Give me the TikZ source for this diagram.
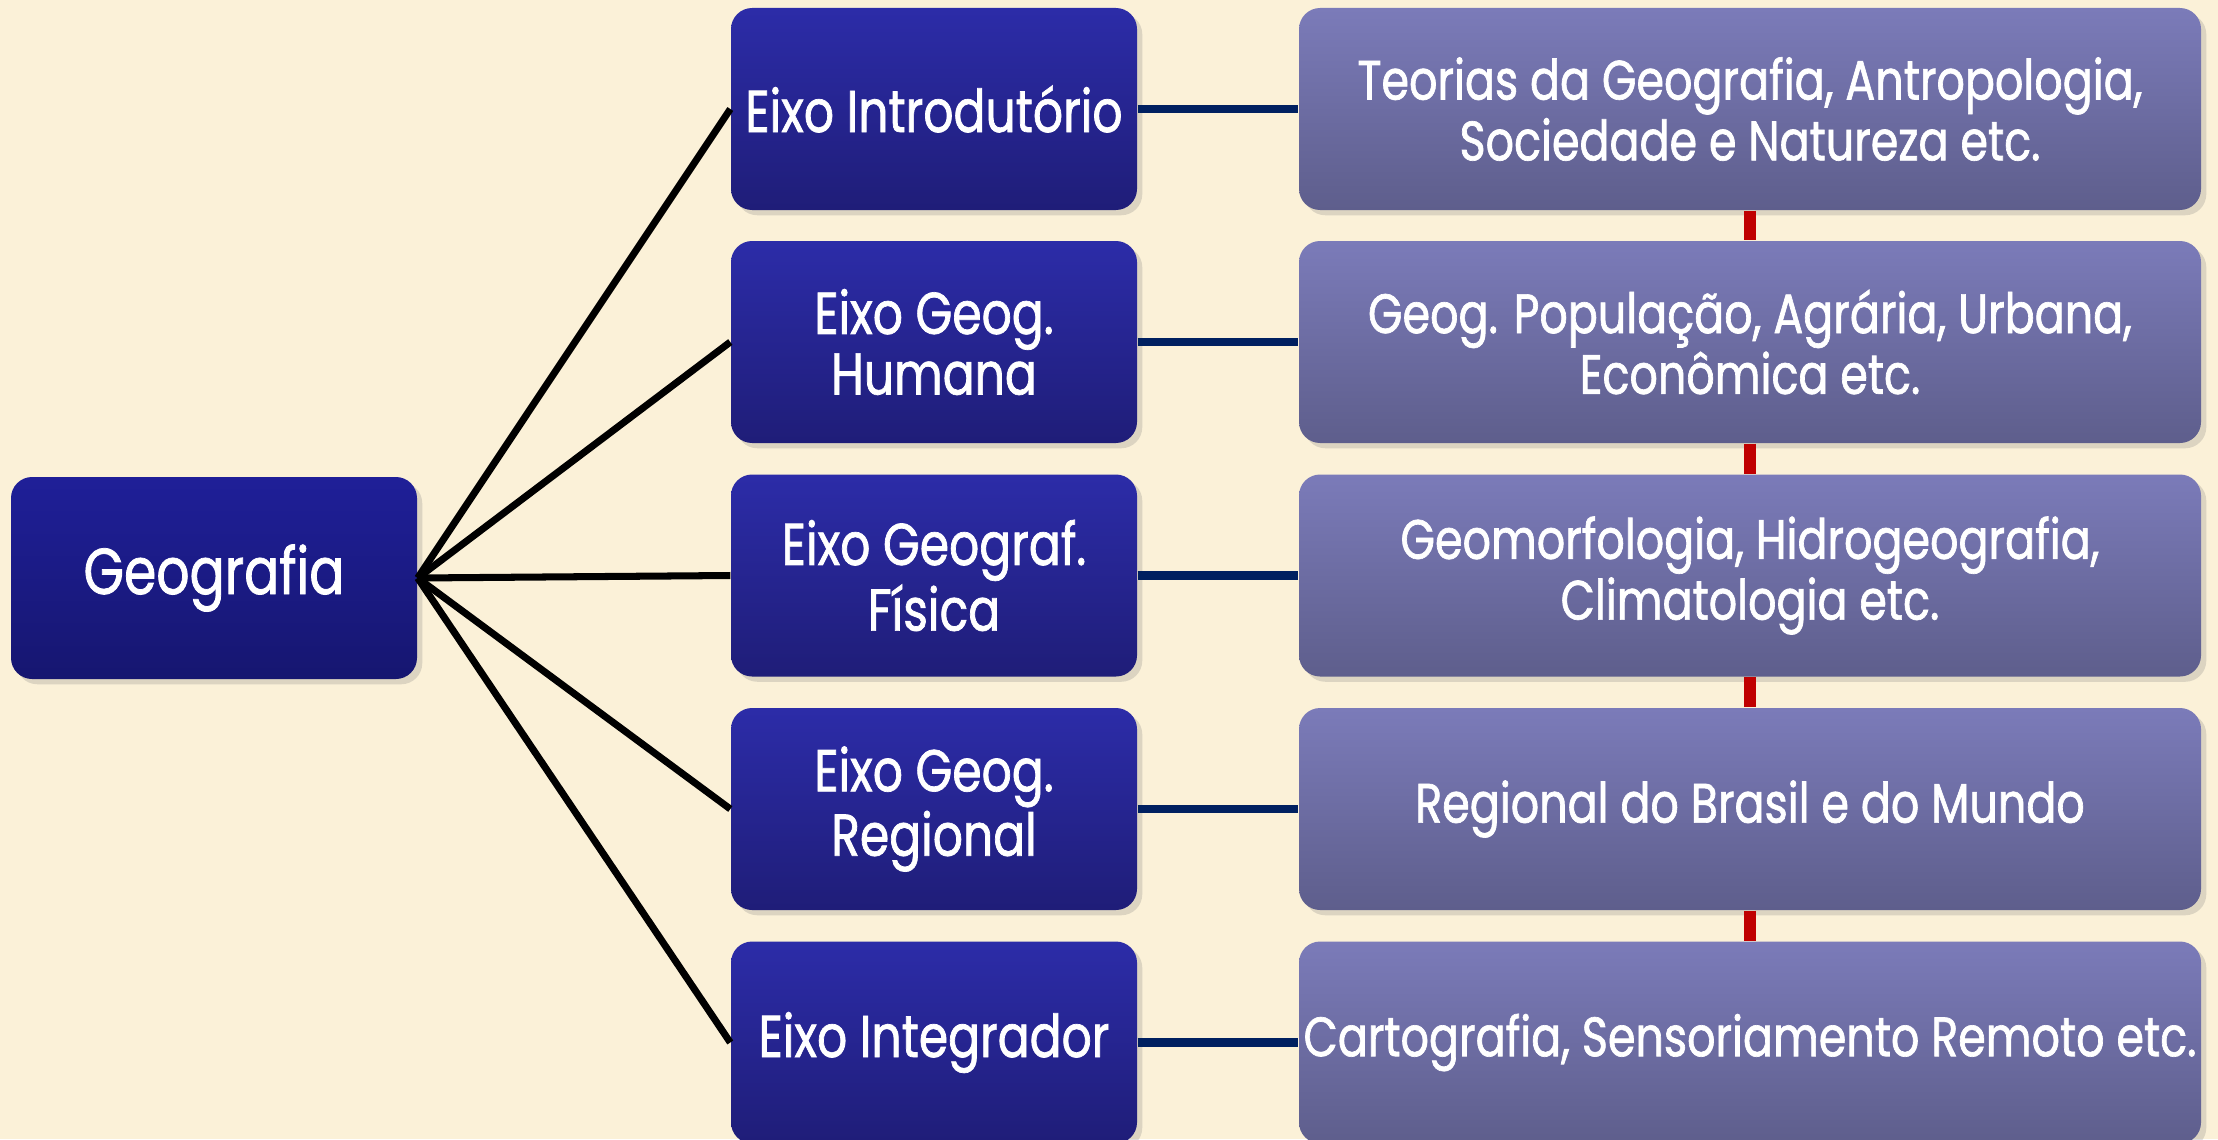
\documentclass[tikz,border=0pt]{standalone}
\usepackage{fontspec}
\setmainfont{Poppins}[FakeStretch=0.8, FakeBold=1.2]
\usepackage{xcolor}
\usepackage{tikz}
\usetikzlibrary{shadows}

\definecolor{paper}{RGB}{251,241,216}
\definecolor{geotop}{RGB}{31,31,152}
\definecolor{geobot}{RGB}{22,22,112}
\definecolor{eixotop}{RGB}{44,44,168}
\definecolor{eixobot}{RGB}{31,29,120}
\definecolor{temtop}{RGB}{123,123,185}
\definecolor{tembot}{RGB}{94,94,140}
\definecolor{linknavy}{RGB}{0,32,96}
\definecolor{linkred}{RGB}{192,0,0}

\begin{document}
\begin{tikzpicture}[
    box/.style={rounded corners=6pt, inner sep=0pt, align=center, text=white,
        minimum height=2.02cm, drop shadow={shadow xshift=1.5pt, shadow yshift=-1.5pt, opacity=0.25}},
    geobox/.style={box, minimum width=4.06cm, top color=geotop, bottom color=geobot,
        font=\fontsize{18.5}{18}\selectfont},
    eixobox/.style={box, minimum width=4.06cm, top color=eixotop, bottom color=eixobot,
        font=\fontsize{16.8}{15}\selectfont},
    tembox/.style={box, minimum width=9.02cm, top color=temtop, bottom color=tembot,
        font=\fontsize{15.8}{15}\selectfont},
    branch/.style={line width=2pt, black},
    tie/.style={line width=2.3pt, linknavy},
    chain/.style={line width=3.4pt, linkred}
]
    % Paper background
    \fill[paper] (0,0) rectangle (22.18,11.39);
    \useasboundingbox (0,0) rectangle (22.18,11.39);

    % Root
    \node[geobox] (geo) at (2.14, 5.61) {Geografia};

    % Eixos
    \node[eixobox] (eixo1) at (9.34, 10.30) {Eixo Introdutório};
    \node[eixobox] (eixo2) at (9.34, 7.97) {Eixo Geog.\\Humana};
    \node[eixobox] (eixo3) at (9.34, 5.635) {Eixo Geograf.\\Física};
    \node[eixobox] (eixo4) at (9.34, 3.30) {Eixo Geog.\\Regional};
    \node[eixobox] (eixo5) at (9.34, 0.965) {Eixo Integrador};

    % Temas
    \node[tembox] (tema1) at (17.50, 10.30) {Teorias da Geografia, Antropologia,\\Sociedade e Natureza etc.};
    \node[tembox] (tema2) at (17.50, 7.97) {Geog. População, Agrária, Urbana,\\Econômica etc.};
    \node[tembox] (tema3) at (17.50, 5.635) {Geomorfologia, Hidrogeografia,\\Climatologia etc.};
    \node[tembox] (tema4) at (17.50, 3.30) {Regional do Brasil e do Mundo};
    \node[tembox] (tema5) at (17.50, 0.965) {Cartografia, Sensoriamento Remoto etc.};

    % Branches from the root
    \foreach \i in {1,...,5}
        \draw[branch] (geo.east) -- (eixo\i.west);

    % Eixo to tema
    \foreach \i in {1,...,5}
        \draw[tie] (eixo\i.east) -- (tema\i.west);

    % Red chain between temas
    \foreach \i [evaluate=\i as \j using int(\i+1)] in {1,...,4}
        \draw[chain] (tema\i.south) -- (tema\j.north);
\end{tikzpicture}
\end{document}
